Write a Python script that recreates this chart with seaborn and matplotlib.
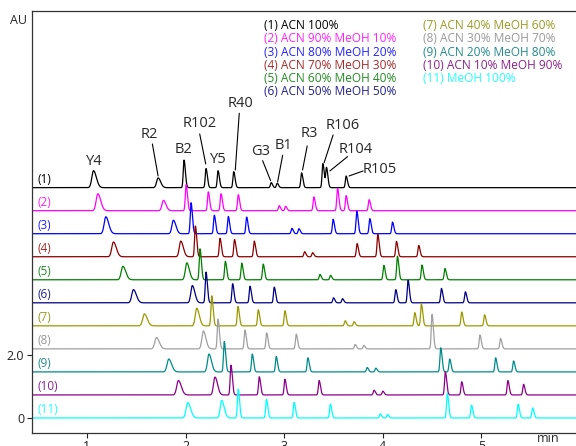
import numpy as np
import pandas as pd
import matplotlib
matplotlib.use("Agg")
import matplotlib.pyplot as plt
import seaborn as sns

# mobile phase for each run
runs = ["(1) ACN 100%", "(2) ACN 90% MeOH 10%", "(3) ACN 80% MeOH 20%",
        "(4) ACN 70% MeOH 30%", "(5) ACN 60% MeOH 40%", "(6) ACN 50% MeOH 50%",
        "(7) ACN 40% MeOH 60%", "(8) ACN 30% MeOH 70%", "(9) ACN 20% MeOH 80%",
        "(10) ACN 10% MeOH 90%", "(11) MeOH 100%"]
line_colors = ["#000000", "#ff00ff", "#0000ff", "#8b0000", "#008000", "#000080",
               "#9a9a00", "#a0a0a0", "#008b8b", "#8b008b", "#00ffff"]
text_colors = ["#000000", "#ff22ff", "#2222ff", "#a52a2a", "#228b22", "#22228b",
               "#9a9a22", "#999999", "#228b8b", "#8b228b", "#22ffff"]

# retention time (min) / peak height (AU) per run
rt1 = [1.067, 1.722, 1.985, 2.208, 2.330, 2.489, 2.869, 2.930, 3.177, 3.393, 3.430, 3.629]
h1 = [0.54, 0.31, 0.88, 0.61, 0.54, 0.51, 0.16, 0.14, 0.47, 0.77, 0.63, 0.37]
rt2 = [1.111, 1.776, 2.006, 2.231, 2.360, 2.535, 2.950, 3.015, 3.302, 3.542, 3.629, 3.862]
h2 = [0.54, 0.33, 0.83, 0.60, 0.54, 0.51, 0.16, 0.14, 0.44, 0.72, 0.48, 0.35]
rt3 = [1.192, 1.877, 2.056, 2.292, 2.434, 2.620, 3.079, 3.150, 3.497, 3.737, 3.869, 4.099]
h3 = [0.54, 0.43, 0.99, 0.59, 0.55, 0.53, 0.17, 0.16, 0.46, 0.72, 0.48, 0.37]
rt4 = [1.269, 1.952, 2.100, 2.350, 2.497, 2.697, 3.208, 3.289, 3.740, 3.950, 4.139, 4.365]
h4 = [0.47, 0.50, 0.98, 0.59, 0.55, 0.50, 0.16, 0.13, 0.42, 0.71, 0.49, 0.36]
rt5 = [1.365, 2.013, 2.147, 2.404, 2.570, 2.788, 3.363, 3.471, 4.011, 4.149, 4.398, 4.631]
h5 = [0.43, 0.54, 0.99, 0.59, 0.53, 0.50, 0.17, 0.14, 0.46, 0.75, 0.47, 0.36]
rt6 = [1.472, 2.069, 2.208, 2.478, 2.654, 2.900, 3.501, 3.592, 4.132, 4.257, 4.595, 4.838]
h6 = [0.42, 0.55, 0.98, 0.61, 0.53, 0.50, 0.16, 0.13, 0.42, 0.72, 0.46, 0.35]
rt7 = [1.583, 2.114, 2.266, 2.532, 2.738, 3.008, 3.619, 3.710, 4.325, 4.392, 4.801, 5.033]
h7 = [0.38, 0.56, 0.96, 0.62, 0.51, 0.48, 0.16, 0.13, 0.42, 0.70, 0.44, 0.35]
rt8 = [1.705, 2.181, 2.330, 2.603, 2.823, 3.123, 3.720, 3.808, 4.500, 4.986, 5.195]
h8 = [0.36, 0.57, 0.95, 0.60, 0.51, 0.47, 0.14, 0.11, 1.10, 0.44, 0.33]
rt9 = [1.830, 2.238, 2.393, 2.677, 2.920, 3.241, 3.842, 3.930, 4.588, 4.679, 5.145, 5.327]
h9 = [0.41, 0.57, 0.97, 0.57, 0.49, 0.45, 0.14, 0.12, 0.77, 0.41, 0.45, 0.35]
rt10 = [1.928, 2.299, 2.461, 2.748, 3.008, 3.355, 3.912, 4.001, 4.635, 4.801, 5.269, 5.428]
h10 = [0.46, 0.57, 0.95, 0.58, 0.50, 0.46, 0.15, 0.12, 0.74, 0.42, 0.46, 0.34]
rt11 = [2.023, 2.367, 2.534, 2.821, 3.101, 3.469, 3.975, 4.049, 4.655, 4.900, 5.373, 5.520]
h11 = [0.49, 0.56, 0.92, 0.59, 0.50, 0.44, 0.13, 0.11, 0.78, 0.41, 0.44, 0.32]

# peak widths (sigma, min) by elution order
widths = [0.017, 0.015, 0.008, 0.008, 0.008, 0.008, 0.008, 0.008, 0.008, 0.008, 0.008, 0.008]

peak_names = ["Y4", "R2", "B2", "R102", "Y5", "R40", "G3", "B1", "R3", "R106", "R104", "R105"]

rts = [rt1, rt2, rt3, rt4, rt5, rt6, rt7, rt8, rt9, rt10, rt11]
hs = [h1, h2, h3, h4, h5, h6, h7, h8, h9, h10, h11]

offset = 0.7346  # vertical stacking step
t = np.linspace(0.44, 5.96, 4000)

frames = []
for k in range(len(runs)):
    base = (len(runs) - 1 - k) * offset
    sig = np.full_like(t, base)
    for r, h, w in zip(rts[k], hs[k], widths):
        s = np.where(t < r, w, w * 1.7)
        sig += h * np.exp(-0.5 * ((t - r) / s) ** 2)
    frames.append(pd.DataFrame({"time": t, "signal": sig, "run": runs[k]}))
df = pd.concat(frames, ignore_index=True)

sns.set_style("ticks")
plt.rcParams["font.family"] = ["Open Sans", "DejaVu Sans"]

fig = plt.figure(figsize=(5.76, 4.46), dpi=100)
ax = fig.add_axes([0.055, 0.0298, 0.945, 0.9455])

sns.lineplot(data=df, x="time", y="signal", hue="run", palette=line_colors,
             estimator=None, sort=False, linewidth=0.9, legend=False, ax=ax)

ax.set_xlim(0.44, 5.96)
ax.set_ylim(-0.47, 12.98)
ax.set_xticks([1, 2, 3, 4, 5])
ax.set_yticks([0, 2.0])
ax.set_yticklabels(["0", "2.0"])
ax.set_xlabel("")
ax.set_ylabel("")
ax.tick_params(axis="both", direction="out", length=3.5, width=0.8,
               labelsize=9, colors="#222222", pad=2)
for side in ["left", "bottom", "top"]:
    ax.spines[side].set_visible(True)
    ax.spines[side].set_linewidth(0.9)
    ax.spines[side].set_color("#333333")
ax.spines["right"].set_visible(False)

fig.text(18 / 576, 1 - 21 / 446, "AU", fontsize=9, ha="center", va="center")
fig.text(548 / 576, 1 - 439 / 446, "min", fontsize=9, ha="center", va="center")

# run labels at the left of each trace
for k in range(len(runs)):
    base = (len(runs) - 1 - k) * offset
    ax.text(0.497, base + 0.06, runs[k].split(" ")[0], color=text_colors[k],
            fontsize=8.5, ha="left", va="bottom")

# legend block in two columns
for k in range(len(runs)):
    col = 0 if k < 6 else 1
    row = k if k < 6 else k - 6
    ax.text([2.795, 4.409][col], 12.514 - row * 0.4227, runs[k],
            color=text_colors[k], fontsize=8.6, ha="left", va="center")

# peak labels for run (1)
label_pos = [(1.077, 8.166), (1.634, 9.049), (1.978, 8.549), (2.147, 9.378),
             (2.337, 8.252), (2.555, 10.038), (2.765, 8.485), (2.998, 8.676),
             (3.254, 9.059), (3.592, 9.314), (3.727, 8.571), (3.970, 7.911)]
for name, (x, y) in zip(peak_names, label_pos):
    ax.text(x, y, name, fontsize=10.5, ha="center", va="center")

leaders = {"R2": (1.664, 8.740, 1.722, 7.719), "R102": (2.144, 9.059, 2.205, 8.102),
           "R40": (2.545, 9.719, 2.505, 7.911), "G3": (2.782, 8.207, 2.863, 7.570),
           "B1": (2.985, 8.379, 2.934, 7.528), "R3": (3.234, 8.676, 3.187, 7.911),
           "R106": (3.497, 9.027, 3.406, 8.144), "R104": (3.643, 8.335, 3.464, 7.879),
           "R105": (3.801, 7.879, 3.659, 7.719)}
for name, (x0, y0, x1, y1) in leaders.items():
    ax.annotate("", xy=(x1, y1), xytext=(x0, y0),
                arrowprops=dict(arrowstyle="-", color="black", lw=0.8,
                                shrinkA=0, shrinkB=0))

fig.savefig("out.png", dpi=100)
